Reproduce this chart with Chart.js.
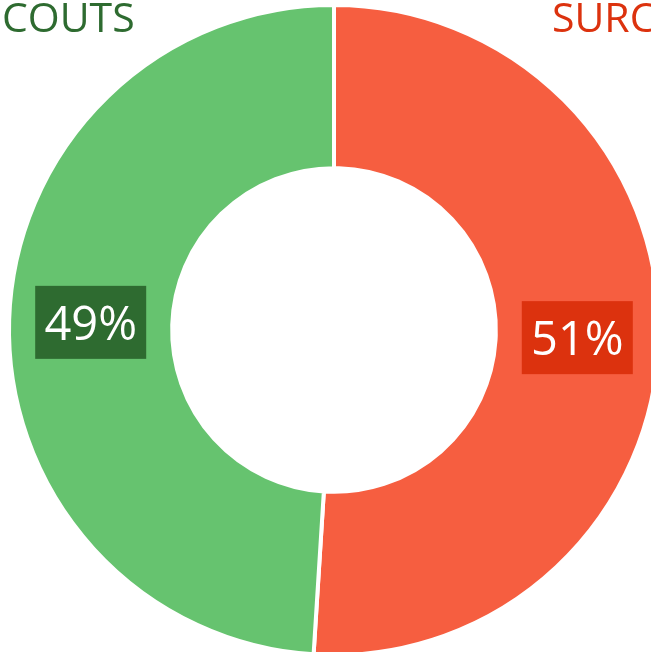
<!DOCTYPE html>
<html>
<head>
<meta charset="utf-8">
<script src="https://cdn.jsdelivr.net/npm/chart.js@4.4.0/dist/chart.umd.min.js"></script>
<style>
html,body{margin:0;padding:0;background:#fff;overflow:hidden;width:651px;height:652px;}
#wrap{position:absolute;left:0;top:0;width:680px;height:680px;}
</style>
</head>
<body>
<div id="wrap"><canvas id="c" width="680" height="680"></canvas></div>
<script>
const categories = ['SURCOUTS', 'COUTS'];
const values = [51, 49];
const percentLabels = ['51%', '49%'];

const sliceColors = ['#f65e40', '#66c36f'];
const boxColors = ['#dc320e', '#2e6b30'];

const labelsPlugin = {
  id: 'labelsPlugin',
  afterDatasetsDraw(chart) {
    const ctx = chart.ctx;
    const meta = chart.getDatasetMeta(0);
    ctx.save();
    meta.data.forEach((arc, i) => {
      const p = arc.tooltipPosition();
      const w = 111, h = 73;
      ctx.fillStyle = boxColors[i];
      ctx.fillRect(p.x - w / 2, p.y - h / 2, w, h);
      ctx.fillStyle = '#ffffff';
      ctx.font = '47px "Open Sans"';
      ctx.textAlign = 'center';
      ctx.textBaseline = 'middle';
      ctx.fillText(percentLabels[i], p.x, p.y + 4);
    });
    ctx.font = '41px "Open Sans"';
    ctx.textAlign = 'left';
    ctx.textBaseline = 'alphabetic';
    ctx.fillStyle = boxColors[1];
    ctx.fillText(categories[1], 2, 32);
    ctx.fillStyle = boxColors[0];
    ctx.fillText(categories[0], 552, 32);
    ctx.restore();
  }
};

new Chart(document.getElementById('c'), {
  type: 'doughnut',
  data: {
    labels: categories,
    datasets: [{
      data: values,
      backgroundColor: sliceColors,
      borderColor: '#ffffff',
      borderWidth: 4,
      hoverOffset: 0
    }]
  },
  options: {
    responsive: false,
    animation: false,
    cutout: '49.8%',
    layout: { padding: { left: 7, top: 3, right: 19, bottom: 23 } },
    plugins: {
      legend: { display: false },
      tooltip: { enabled: false }
    },
    events: []
  },
  plugins: [labelsPlugin]
});
</script>
</body>
</html>
